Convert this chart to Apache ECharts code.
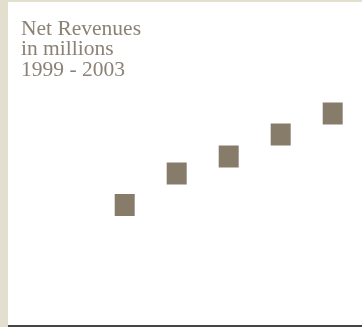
<!DOCTYPE html>
<html>
<head>
<meta charset="utf-8">
<style>
  html, body { margin: 0; padding: 0; background: #ffffff; }
  #chart { width: 362px; height: 327px; }
</style>
<script src="https://cdn.jsdelivr.net/npm/echarts@6/dist/echarts.min.js"></script>
</head>
<body>
<div id="chart"></div>
<script>
// Net revenues, in millions, by year
const years = ['1999', '2000', '2001', '2002', '2003'];
const revenues = [240, 303, 337, 381, 423];
const titleLines = ['Net Revenues', 'in millions', '1999 - 2003'];

const chart = echarts.init(document.getElementById('chart'));
chart.setOption({
  animation: false,
  backgroundColor: '#ffffff',
  title: {
    text: titleLines.join('\n'),
    left: 16,
    top: 14,
    textStyle: {
      fontFamily: 'Liberation Serif',
      fontSize: 21.5,
      fontWeight: 'normal',
      color: '#8b8275',
      lineHeight: 20.5
    }
  },
  grid: { left: 98.7, right: 3.3, top: 25, bottom: 2 },
  xAxis: {
    type: 'category',
    data: years,
    boundaryGap: true,
    show: false
  },
  yAxis: {
    type: 'value',
    min: 0,
    max: 600,
    show: false
  },
  series: [{
    type: 'scatter',
    data: revenues,
    symbol: 'rect',
    symbolSize: [20, 22],
    itemStyle: { color: '#877b6a', opacity: 1 }
  }],
  graphic: [
    { type: 'rect', left: 0, top: 0, shape: { width: 8, height: 327 }, style: { fill: '#e3dfcf' } },
    { type: 'rect', left: 0, top: 0, shape: { width: 362, height: 2 }, style: { fill: '#e3dfcf' } },
    { type: 'rect', left: 8, top: 325, shape: { width: 354, height: 2 }, style: { fill: '#444444' } }
  ]
});
</script>
</body>
</html>
